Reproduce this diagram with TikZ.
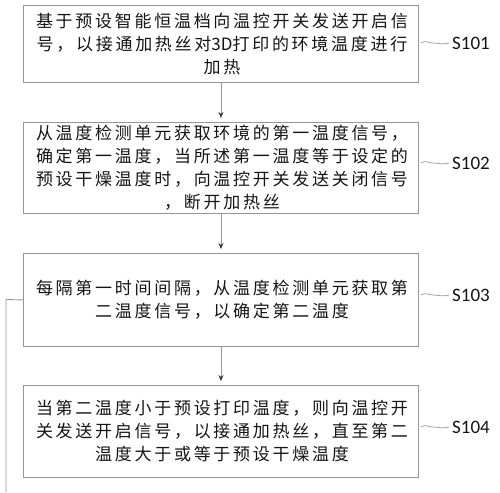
\documentclass[tikz,border=0pt]{standalone}
\usepackage{fontspec}
\newfontfamily\cjk[LetterSpace=16]{Noto Sans CJK SC}
\newfontfamily\cjkn{Noto Sans CJK SC}
\newfontfamily\lab{Carlito}
\usetikzlibrary{arrows.meta}
\definecolor{linegray}{RGB}{150,150,150}
\definecolor{txt}{RGB}{20,20,20}
\tikzset{
  stepbox/.style={draw=linegray, line width=0.9pt, minimum width=395pt, anchor=north west, inner sep=0pt},
  boxtext/.style={anchor=center, align=center, text=txt, font=\cjk\fontsize{17}{23}\selectfont},
  flow/.style={draw=linegray, line width=0.9pt, -{Stealth[length=6pt,width=5pt,color=black!80]}, shorten >=4pt},
  squig/.style={draw=linegray, line width=0.7pt},
  steplabel/.style={anchor=west, text=txt, font=\lab\fontsize{19}{22}\selectfont, inner sep=0pt},
  loopline/.style={draw=linegray, line width=0.9pt}
}
\begin{document}
\begin{tikzpicture}[x=1pt,y=-1pt]
\useasboundingbox (0,0) rectangle (500,492);
% boxes
\node[stepbox, minimum height=77pt] (b1) at (23,5) {};
\node[stepbox, minimum height=91pt] (b2) at (23,122) {};
\node[stepbox, minimum height=93pt] (b3) at (23,253) {};
\node[stepbox, minimum height=92pt] (b4) at (23,385) {};
% texts
\node[boxtext] (t1) at (222,44) {基于预设智能恒温档向温控开关发送开启信\\号，以接通加热丝对{\cjkn 3D}打印的环境温度进行\\加热};
\node[boxtext] (t2) at (222,168) {从温度检测单元获取环境的第一温度信号，\\确定第一温度，当所述第一温度等于设定的\\预设干燥温度时，向温控开关发送关闭信号\\，断开加热丝};
\node[boxtext] (t3) at (222,300) {每隔第一时间间隔，从温度检测单元获取第\\二温度信号，以确定第二温度};
\node[boxtext] (t4) at (222,431) {当第二温度小于预设打印温度，则向温控开\\关发送开启信号，以接通加热丝，直至第二\\温度大于或等于预设干燥温度};
% labels
\node[steplabel] (l1) at (452,43) {S101};
\node[steplabel] (l2) at (452,163) {S102};
\node[steplabel] (l3) at (452,295) {S103};
\node[steplabel] (l4) at (452,427) {S104};
% squiggles
\foreach \b/\l in {b1/l1,b2/l2,b3/l3,b4/l4}{
  \draw[squig] (\l.west -| \b.east) ++(2,0) .. controls +(5,-3) and +(-5,0) .. ++(12,0) .. controls +(5,0) and +(-5,2) .. ([xshift=-3pt]\l.west);
}
% arrows
\draw[flow] (b1.south) -- (b2.north);
\draw[flow] (b2.south) -- (b3.north);
\draw[flow] (b3.south) -- (b4.north);
% loop line
\coordinate (lc) at (6,299.5);
\coordinate (lend) at (6,492);
\draw[loopline] (b3.west) -- (lc) -- (lend);
\end{tikzpicture}
\end{document}
